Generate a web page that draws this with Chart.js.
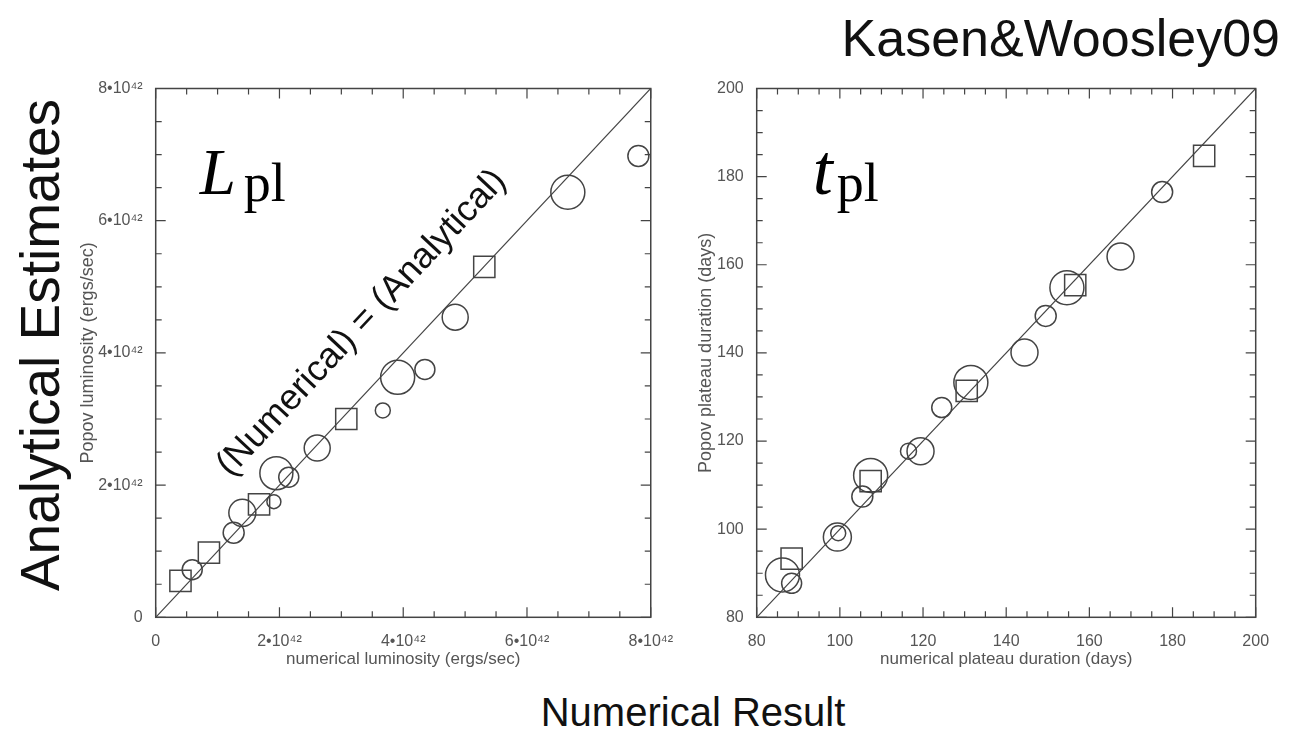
<!DOCTYPE html>
<html>
<head>
<meta charset="utf-8">
<title>Kasen&amp;Woosley09</title>
<script src="https://cdn.jsdelivr.net/npm/chart.js@4.4.0/dist/chart.umd.min.js"></script>
<style>
  body { margin: 0; width: 1309px; height: 729px; background: #fff; position: relative; overflow: hidden;
         font-family: "Liberation Sans", Arial, sans-serif; }
  canvas { position: absolute; }
  #lumChart { left: 60px; top: 70px; }
  #durChart { left: 680px; top: 70px; }
  .big { position: absolute; color: #111; white-space: nowrap; line-height: 1; }
  #credit { right: 29px; top: 12px; font-size: 52px; }
  #yBig { left: 40px; top: 345px; font-size: 55px; transform: translate(-50%, -50%) rotate(-90deg); }
  #xBig { left: 693px; top: 712px; font-size: 40px; transform: translate(-50%, -50%); }
</style>
</head>
<body>
<div class="big" id="credit">Kasen&amp;Woosley09</div>
<div class="big" id="yBig">Analytical Estimates</div>
<div class="big" id="xBig">Numerical Result</div>
<canvas id="lumChart" width="620" height="610"></canvas>
<canvas id="durChart" width="600" height="610"></canvas>
<script>
// luminosity panel, values in units of 1e42 erg/s
const lumRange = [0, 8];
const lumCircleX = [0.59, 1.26, 1.40, 1.91, 1.95, 2.15, 2.61, 3.67, 3.91, 4.35, 4.84, 6.66, 7.80];
const lumCircleY = [0.72, 1.28, 1.58, 1.75, 2.18, 2.12, 2.56, 3.13, 3.63, 3.75, 4.54, 6.43, 6.98];
const lumCircleR = [10, 10.5, 13.5, 7, 16.5, 10, 13, 7.5, 17, 10, 13, 17, 10.5];
const lumSquareX = [0.40, 0.86, 1.67, 3.08, 5.31];
const lumSquareY = [0.55, 0.98, 1.71, 3.00, 5.30];

// plateau duration panel, days
const durRange = [80, 200];
const durCircleX = [86.2, 88.4, 99.4, 99.6, 105.4, 107.4, 116.5, 119.4, 124.5, 131.5, 144.4, 149.5, 154.6, 167.5, 177.5];
const durCircleY = [89.6, 87.7, 98.2, 99.1, 107.4, 112.2, 117.7, 117.7, 127.6, 133.3, 140.1, 148.4, 154.8, 161.9, 176.5];
const durCircleR = [17, 10, 14, 7.5, 10.5, 17, 8, 13.5, 10, 17, 13.5, 10.5, 17, 13.5, 10.5];
const durSquareX = [88.4, 107.4, 130.5, 156.6, 187.6];
const durSquareY = [93.3, 110.9, 131.4, 155.4, 184.7];

const ink = '#444';
const labelGray = '#555';

function pts(xs, ys) {
  return xs.map((x, i) => ({ x: x, y: ys[i] }));
}

// box frame with inward ticks on all four sides (IDL style)
const frameTicks = {
  id: 'frameTicks',
  afterDraw(chart, args, opts) {
    const { ctx, chartArea: a, scales } = chart;
    const isMajor = v => Math.abs(v / opts.major - Math.round(v / opts.major)) < 1e-6;
    ctx.save();
    ctx.strokeStyle = ink;
    ctx.lineWidth = 1.5;
    ctx.strokeRect(a.left, a.top, a.right - a.left, a.bottom - a.top);
    ctx.lineWidth = 1.2;
    ctx.beginPath();
    scales.x.ticks.forEach(t => {
      const px = scales.x.getPixelForValue(t.value);
      const len = isMajor(t.value) ? 10 : 6;
      ctx.moveTo(px, a.bottom); ctx.lineTo(px, a.bottom - len);
      ctx.moveTo(px, a.top); ctx.lineTo(px, a.top + len);
    });
    scales.y.ticks.forEach(t => {
      const py = scales.y.getPixelForValue(t.value);
      const len = isMajor(t.value) ? 10 : 6;
      ctx.moveTo(a.left, py); ctx.lineTo(a.left + len, py);
      ctx.moveTo(a.right, py); ctx.lineTo(a.right - len, py);
    });
    ctx.stroke();
    ctx.restore();
  }
};

// symbol label like L_pl / t_pl in the upper left corner
function symbolPlugin(main, mainFont, dx, dy, gap) {
  return {
    id: 'symbol',
    afterDatasetsDraw(chart) {
      const { ctx, chartArea: a } = chart;
      ctx.save();
      ctx.fillStyle = '#000';
      ctx.textBaseline = 'alphabetic';
      ctx.font = mainFont;
      const x0 = a.left + dx, y0 = a.top + dy;
      ctx.fillText(main, x0, y0);
      const w = ctx.measureText(main).width;
      ctx.font = '54px "Liberation Serif", "DejaVu Serif", serif';
      ctx.fillText('pl', x0 + w + gap, y0 + 7);
      ctx.restore();
    }
  };
}

const diagLabel = {
  id: 'diagLabel',
  afterDatasetsDraw(chart) {
    const { ctx, scales: { x, y } } = chart;
    const ang = Math.atan2(y.getPixelForValue(lumRange[0]) - y.getPixelForValue(lumRange[1]),
                           x.getPixelForValue(lumRange[1]) - x.getPixelForValue(lumRange[0]));
    ctx.save();
    ctx.translate(x.getPixelForValue(3.33), y.getPixelForValue(4.45));
    ctx.rotate(-ang);
    ctx.fillStyle = '#111';
    ctx.font = '36px "Liberation Sans", Arial, sans-serif';
    ctx.textAlign = 'center';
    ctx.textBaseline = 'middle';
    ctx.fillText('(Numerical) = (Analytical)', 0, 0);
    ctx.restore();
  }
};

function buildScales(range, step, major, fmt, xTitle, yTitle, yWidth, yTitlePad) {
  const family = '"Liberation Sans", Arial, sans-serif';
  const tickFont = { family: family, size: 16 };
  const cb = v => (Math.abs(v / major - Math.round(v / major)) < 1e-6 ? fmt(v) : '');
  return {
    x: {
      type: 'linear', min: range[0], max: range[1],
      grid: { display: false }, border: { display: false },
      ticks: { stepSize: step, autoSkip: false, maxRotation: 0, padding: 7,
               color: labelGray, font: tickFont, callback: cb },
      title: { display: true, text: xTitle, color: labelGray, font: { family: family, size: 17 },
               padding: { top: 0, bottom: 10 } },
      afterFit: s => { s.height = 62.7; }
    },
    y: {
      type: 'linear', min: range[0], max: range[1],
      grid: { display: false }, border: { display: false },
      ticks: { stepSize: step, autoSkip: false, padding: 5,
               color: labelGray, font: tickFont, callback: cb },
      title: { display: true, text: yTitle, color: labelGray, font: { family: family, size: 18 },
               padding: { top: yTitlePad, bottom: 0 } },
      afterFit: s => { s.width = yWidth; }
    }
  };
}

function buildDatasets(range, cx, cy, cr, sx, sy) {
  return [
    { type: 'line', data: pts(range, range), borderColor: ink, borderWidth: 1.2,
      pointRadius: 0, fill: false },
    { data: pts(cx, cy), pointStyle: 'circle', pointRadius: cr, pointHoverRadius: cr,
      borderColor: ink, borderWidth: 1.5, backgroundColor: 'rgba(0,0,0,0)' },
    { data: pts(sx, sy), pointStyle: 'rect', pointRadius: 15, pointHoverRadius: 15,
      borderColor: ink, borderWidth: 1.5, backgroundColor: 'rgba(0,0,0,0)' }
  ];
}

const commonPlugins = { legend: { display: false }, tooltip: { enabled: false } };

new Chart(document.getElementById('lumChart'), {
  type: 'scatter',
  data: { datasets: buildDatasets(lumRange, lumCircleX, lumCircleY, lumCircleR, lumSquareX, lumSquareY) },
  options: {
    responsive: false,
    animation: false,
    layout: { padding: { top: 16.7, right: 24.3, left: 0, bottom: 0 } },
    plugins: Object.assign({ frameTicks: { major: 2 } }, commonPlugins),
    scales: buildScales(lumRange, 0.5, 2, v => (v === 0 ? '0' : v + '•10⁴²'),
                        'numerical luminosity (ergs/sec)', 'Popov luminosity (ergs/sec)', 95.7, 17)
  },
  plugins: [frameTicks, symbolPlugin('L', 'italic 65px "Liberation Serif", "DejaVu Serif", serif', 44, 105, 8), diagLabel]
});

new Chart(document.getElementById('durChart'), {
  type: 'scatter',
  data: { datasets: buildDatasets(durRange, durCircleX, durCircleY, durCircleR, durSquareX, durSquareY) },
  options: {
    responsive: false,
    animation: false,
    layout: { padding: { top: 16.7, right: 24.3, left: 0, bottom: 0 } },
    plugins: Object.assign({ frameTicks: { major: 20 } }, commonPlugins),
    scales: buildScales(durRange, 5, 20, v => String(v),
                        'numerical plateau duration (days)', 'Popov plateau duration (days)', 76.7, 15)
  },
  plugins: [frameTicks, symbolPlugin('t', 'italic 72px "Liberation Serif", "DejaVu Serif", serif', 56, 105, 4)]
});
</script>
</body>
</html>
